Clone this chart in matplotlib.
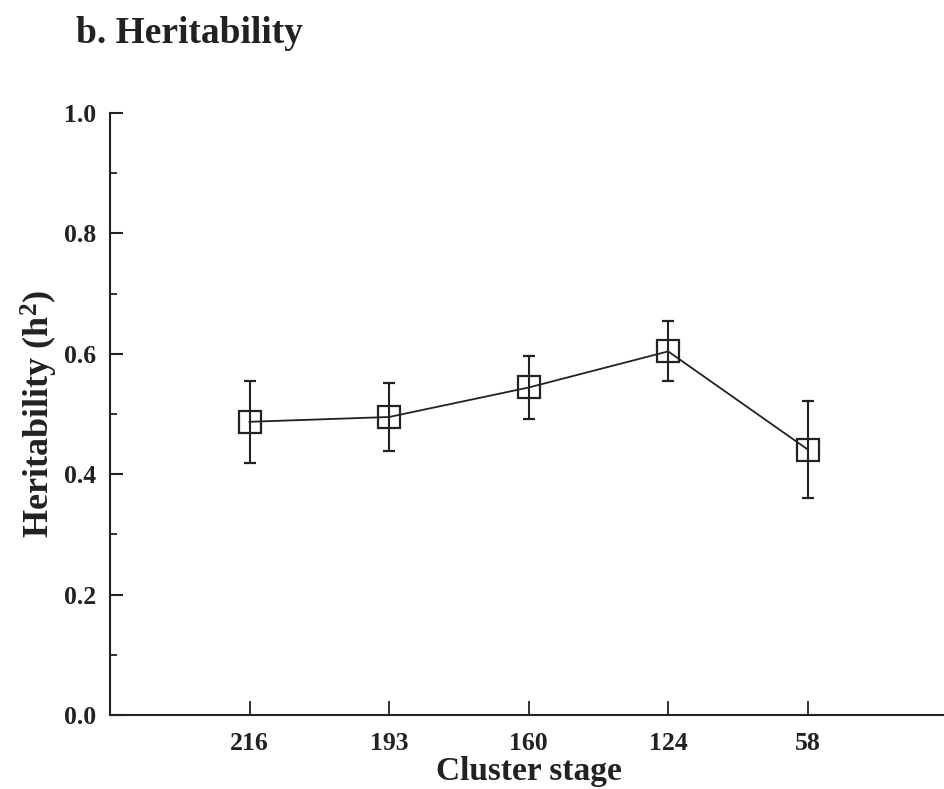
import matplotlib
matplotlib.use("Agg")
import matplotlib.pyplot as plt
from matplotlib.ticker import MultipleLocator

# heritability estimates by cluster stage
stages = ["216", "193", "160", "124", "58"]
h2 = [0.487, 0.495, 0.544, 0.604, 0.441]
h2_err = [0.068, 0.057, 0.053, 0.050, 0.080]

plt.rcParams['font.family'] = ['Liberation Serif', 'DejaVu Serif']
plt.rcParams['font.weight'] = 'bold'
plt.rcParams['mathtext.default'] = 'regular'

fig = plt.figure(figsize=(9.44, 7.89), dpi=100)
ax = fig.add_axes([0.1165, 0.0938, 0.887, 0.763])

xpos = list(range(1, len(stages) + 1))
ax.errorbar(xpos, h2, yerr=h2_err, color='#222222', lw=1.3,
            elinewidth=1.5, capsize=4.5, capthick=2,
            marker='s', markersize=16.5, markerfacecolor='none',
            markeredgecolor='#222222', markeredgewidth=1.6)

ax.set_xlim(0, 6)
ax.set_ylim(0, 1.0)
ax.set_xticks(xpos)
ax.set_xticklabels(stages)
ax.yaxis.set_major_locator(MultipleLocator(0.2))
ax.yaxis.set_minor_locator(MultipleLocator(0.1))
ax.yaxis.set_major_formatter(plt.FormatStrFormatter('%.1f'))

for side in ('top', 'right'):
    ax.spines[side].set_visible(False)
for side in ('left', 'bottom'):
    ax.spines[side].set_linewidth(1.5)
    ax.spines[side].set_color('#222222')

ax.tick_params(axis='x', direction='in', length=10, width=1.3, pad=12,
               labelsize=18.5, colors='#222222')
ax.tick_params(axis='y', which='major', direction='in', length=9, width=1.5,
               pad=10, labelsize=18.5, colors='#222222')
ax.tick_params(axis='y', which='minor', direction='in', length=5, width=1.3,
               colors='#222222')

ax.set_xlabel("Cluster stage", fontsize=24, fontweight='bold', labelpad=1,
              color='#222222')
ax.set_ylabel("Heritability (h$^{2}$)", fontsize=26, fontweight='bold',
              labelpad=3, color='#222222')

fig.text(0.08, 0.958, "b. Heritability", fontsize=27, fontweight='bold',
         va='center', ha='left', color='#222222')

fig.savefig("out.png", dpi=100)
